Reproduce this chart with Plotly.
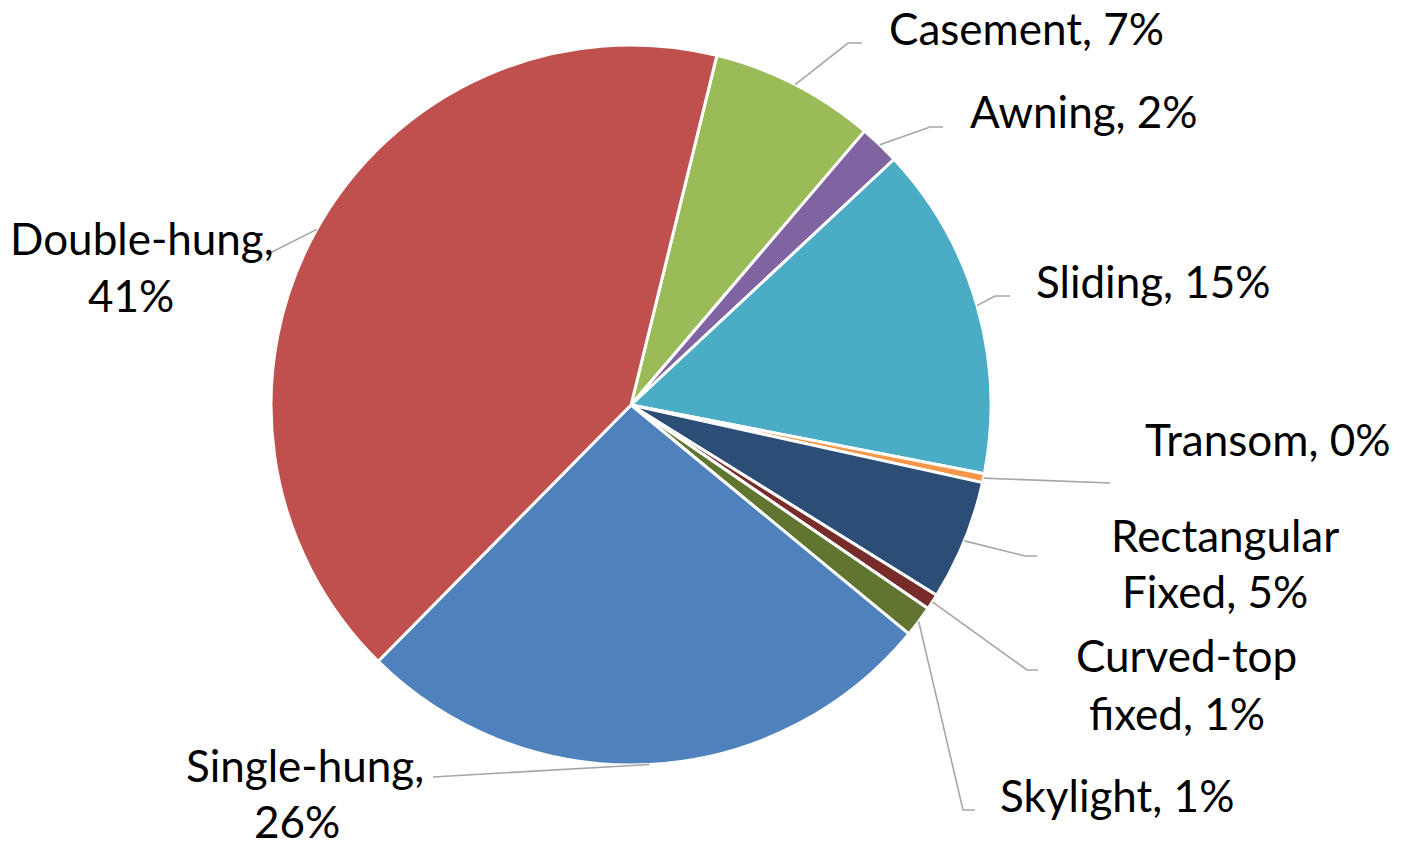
import math
import plotly.graph_objects as go

# ---- data (clockwise order, starting at the Casement slice) ----
categories = ["Casement", "Awning", "Sliding", "Transom", "Rectangular Fixed",
              "Curved-top fixed", "Skylight", "Single-hung", "Double-hung"]
values = [7.4, 1.8, 15.0, 0.4, 5.4, 0.7, 1.4, 26.4, 41.4]
label_lines = [["Casement, 7%"], ["Awning, 2%"], ["Sliding, 15%"], ["Transom, 0%"],
               ["Rectangular", "Fixed, 5%"], ["Curved-top", "fixed, 1%"],
               ["Skylight, 1%"], ["Single-hung,", "26%"], ["Double-hung,", "41%"]]
colors = ["#9BBB59", "#8064A2", "#4BACC6", "#F79646", "#2C4D75",
          "#772C2A", "#5F7530", "#4F81BD", "#C0504D"]

# ---- layout constants (pixels) ----
W, H = 1404, 842
CX, CY, R = 631, 405, 360
ROTATION = 13.8
FONT = "Lato"
FSIZE = 44
# per-label: line centres (x, y) and leader polyline beyond the pie edge
label_pos = [
    [(1026, 28)],
    [(1084, 111)],
    [(1153, 281)],
    [(1267, 439)],
    [(1225, 535), (1215, 591)],
    [(1186, 655), (1177, 713)],
    [(1117, 795)],
    [(305, 765), (297, 821)],
    [(142, 238), (131, 295)],
]
leader_pts = [
    [(848, 43), (862, 43)],
    [(930, 127), (943, 127)],
    [(995, 296), (1010, 296)],
    [(1110, 483)],
    [(1025, 556), (1037, 556)],
    [(1027, 670), (1038, 670)],
    [(963, 810), (975, 810)],
    [(433, 777)],
    [(270, 253)],
]


def px(x):
    return x / W


def py(y):
    return 1 - y / H


fig = go.Figure(go.Pie(
    labels=categories, values=values, sort=False, direction="clockwise",
    rotation=ROTATION, textinfo="none", hoverinfo="label+percent",
    marker=dict(colors=colors, line=dict(color="white", width=3)),
    domain=dict(x=[px(CX - R), px(CX + R)], y=[py(CY + R), py(CY - R)]),
    showlegend=False,
))

total = sum(values)
cum = 0.0
shapes = []
annotations = []
for v, lines, pos, pts in zip(values, label_lines, label_pos, leader_pts):
    mid = math.radians(ROTATION + (cum + v / 2) / total * 360)
    cum += v
    sx, sy = CX + R * math.sin(mid), CY - R * math.cos(mid)
    path = [(sx, sy)] + pts
    d = "M " + " L ".join(f"{px(x):.5f},{py(y):.5f}" for x, y in path)
    shapes.append(dict(type="path", path=d, xref="paper", yref="paper",
                       line=dict(color="#A6A6A6", width=1.6)))
    for text, (tx, ty) in zip(lines, pos):
        annotations.append(dict(text=text, x=px(tx), y=py(ty), xref="paper", yref="paper",
                                xanchor="center", yanchor="middle", showarrow=False,
                                font=dict(family=FONT, size=FSIZE, color="black")))

fig.update_layout(width=W, height=H, margin=dict(l=0, r=0, t=0, b=0),
                  paper_bgcolor="white", plot_bgcolor="white",
                  shapes=shapes, annotations=annotations)
fig.write_html("out.html", config={"displayModeBar": False},
               post_script="document.body.style.margin='0px';document.body.style.overflow='hidden';")
